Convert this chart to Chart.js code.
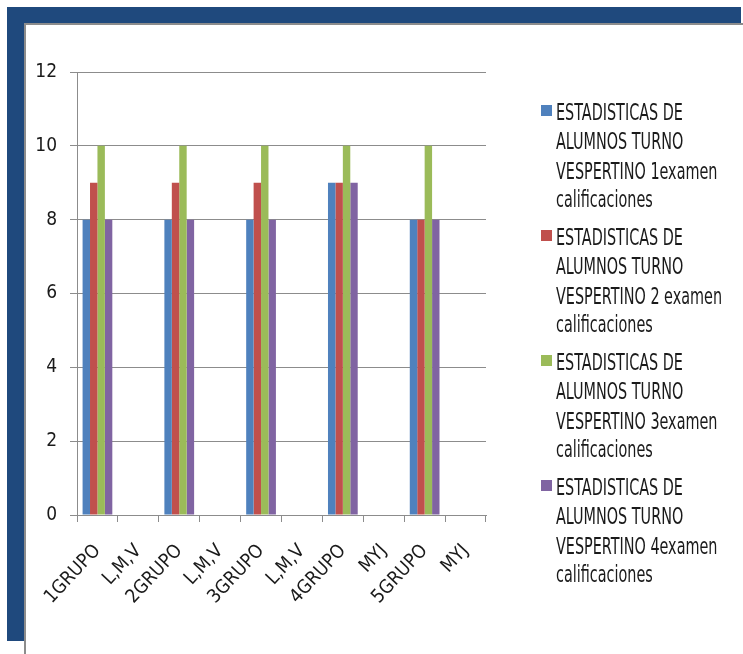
<!DOCTYPE html>
<html>
<head>
<meta charset="utf-8">
<script src="https://cdn.jsdelivr.net/npm/chart.js@4.4.1/dist/chart.umd.min.js"></script>
<style>
  html, body { margin: 0; padding: 0; background: #ffffff; }
  #page { position: relative; width: 743px; height: 654px; overflow: hidden; background: #ffffff; }
  .band { position: absolute; background: #1F497D; }
  #bandTop { left: 7px; top: 7px; width: 734px; height: 17px; }
  #bandLeft { left: 7px; top: 7px; width: 17px; height: 634px; }
  .edge { position: absolute; background: #8c8c8c; }
  #edgeTop { left: 24px; top: 23px; width: 719px; height: 2px; }
  #edgeLeft { left: 24px; top: 23px; width: 2px; height: 631px; }
  #chart { position: absolute; left: 0; top: 0; }
  #legend { position: absolute; left: 541px; top: 99px; font-family: 'DejaVu Sans Condensed', 'DejaVu Sans', sans-serif; font-size: 16px; color: #1a1a1a; }
  .item { position: relative; width: 200px; height: 125px; }
  .box { position: absolute; left: 0; top: 6px; width: 11px; height: 11px; }
  .txt { position: absolute; left: 15px; top: 0; line-height: 20.4px; transform: scaleY(1.42); transform-origin: 0 0; white-space: nowrap; }
</style>
</head>
<body>
<div id="page">
  <div class="band" id="bandTop"></div>
  <div class="band" id="bandLeft"></div>
  <div class="edge" id="edgeTop"></div>
  <div class="edge" id="edgeLeft"></div>
  <canvas id="chart" width="743" height="654"></canvas>
  <div id="legend"></div>
</div>
<script>
// Groups and schedule rows along the horizontal axis
const categories = ['1GRUPO', 'L,M,V', '2GRUPO', 'L,M,V', '3GRUPO', 'L,M,V', '4GRUPO', 'MYJ', '5GRUPO', 'MYJ'];

// Grades per exam (rows with only the schedule have no value)
const examen1 = [8, null, 8, null, 8, null, 9, null, 8, null];
const examen2 = [9, null, 9, null, 9, null, 9, null, 8, null];
const examen3 = [10, null, 10, null, 10, null, 10, null, 10, null];
const examen4 = [8, null, 8, null, 8, null, 9, null, 8, null];

// Legend text for each series, one entry per line
const seriesNames = [
  ['ESTADISTICAS DE', 'ALUMNOS TURNO', 'VESPERTINO 1examen', 'calificaciones'],
  ['ESTADISTICAS DE', 'ALUMNOS TURNO', 'VESPERTINO 2 examen', 'calificaciones'],
  ['ESTADISTICAS DE', 'ALUMNOS TURNO', 'VESPERTINO 3examen', 'calificaciones'],
  ['ESTADISTICAS DE', 'ALUMNOS TURNO', 'VESPERTINO 4examen', 'calificaciones']
];

// Value axis ticks
const yTicks = [0, 2, 4, 6, 8, 10, 12];

const seriesColors = ['#4F81BD', '#C0504D', '#9BBB59', '#8064A2'];
const seriesValues = [examen1, examen2, examen3, examen4];

const FONT = "'DejaVu Sans Condensed', 'DejaVu Sans', sans-serif";
const GRID = '#8c8c8c';

const datasets = seriesValues.map((vals, i) => ({
  label: seriesNames[i].join(' '),
  data: vals,
  backgroundColor: seriesColors[i],
  borderWidth: 0,
  categoryPercentage: 0.727,
  barPercentage: 1.0
}));

new Chart(document.getElementById('chart'), {
  type: 'bar',
  data: { labels: categories, datasets },
  options: {
    responsive: false,
    animation: false,
    layout: { padding: { left: 27, right: 257, top: 72, bottom: 29 } },
    plugins: { legend: { display: false }, tooltip: { enabled: false } },
    scales: {
      x: {
        grid: { offset: true, drawOnChartArea: false, tickLength: 7, color: GRID },
        border: { color: GRID, width: 1 },
        ticks: {
          autoSkip: false, minRotation: 47, maxRotation: 47, padding: 18,
          color: '#1a1a1a', font: { family: FONT, size: 19 }
        },
        afterFit: (s) => { s.height = 110; }
      },
      y: {
        min: 0, max: 12,
        grid: { color: GRID, tickLength: 7 },
        border: { color: GRID, width: 1 },
        ticks: { padding: 13, color: '#1a1a1a', font: { family: FONT, size: 19 } },
        afterBuildTicks: (s) => { s.ticks = yTicks.map(v => ({ value: v })); },
        afterFit: (s) => { s.width = 50; }
      }
    }
  }
});

// Legend beside the plot
const legend = document.getElementById('legend');
seriesNames.forEach((lines, i) => {
  const item = document.createElement('div');
  item.className = 'item';
  const box = document.createElement('span');
  box.className = 'box';
  box.style.background = seriesColors[i];
  const txt = document.createElement('div');
  txt.className = 'txt';
  txt.innerHTML = lines.join('<br>');
  item.appendChild(box);
  item.appendChild(txt);
  legend.appendChild(item);
});
</script>
</body>
</html>
